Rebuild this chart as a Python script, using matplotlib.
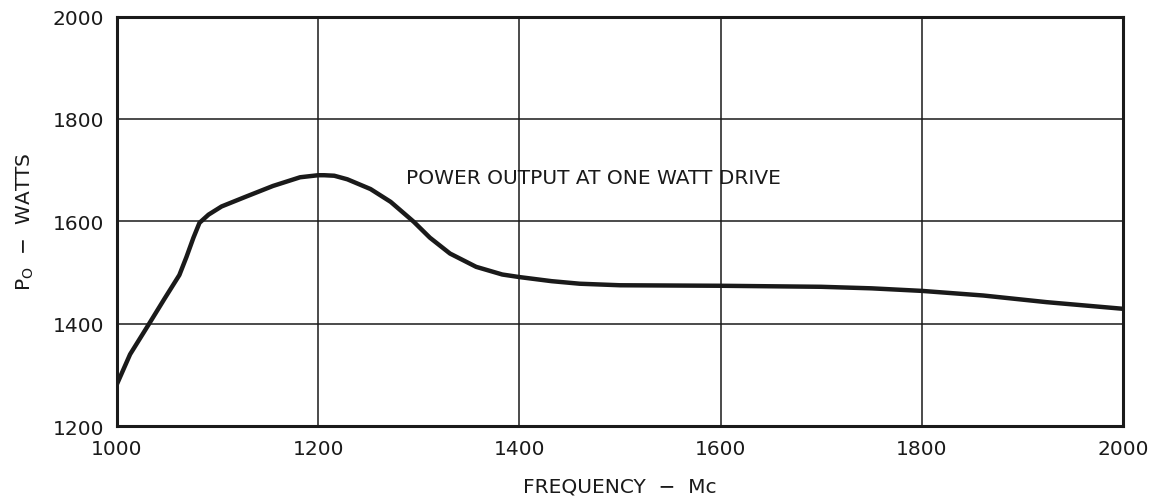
import matplotlib
matplotlib.use("Agg")
import matplotlib.pyplot as plt

# Measured power output versus frequency
freq_mc = [1000, 1013, 1032, 1047, 1062, 1069, 1076, 1082, 1091, 1104, 1128,
           1155, 1182, 1200, 1206, 1216, 1229, 1252, 1272, 1285, 1295, 1311,
           1331, 1357, 1383, 1400, 1432, 1460, 1500, 1600, 1700, 1750, 1800,
           1861, 1924, 2000]
power_w = [1282, 1340, 1400, 1448, 1495, 1530, 1568, 1597, 1613, 1629, 1648,
           1669, 1686, 1690, 1690, 1689, 1682, 1663, 1638, 1616, 1599, 1568,
           1537, 1511, 1496, 1491, 1483, 1478, 1475, 1474, 1472, 1469, 1464,
           1455, 1442, 1429]

x_ticks = [1000, 1200, 1400, 1600, 1800, 2000]
y_ticks = [1200, 1400, 1600, 1800, 2000]

plt.rcParams["font.family"] = ["DejaVu Sans"]
ink = "#1a1a1a"

fig = plt.figure(figsize=(11.63, 5.02), dpi=100)
ax = fig.add_axes([0.1006, 0.1494, 0.8650, 0.8156])

ax.plot(freq_mc, power_w, color=ink, lw=3.2, solid_capstyle="round",
        solid_joinstyle="round", zorder=3)

ax.set_xlim(1000, 2000)
ax.set_ylim(1200, 2000)
ax.set_xticks(x_ticks)
ax.set_yticks(y_ticks)
ax.set_xticklabels([str(v) for v in x_ticks], fontsize=14.5, color=ink)
ax.set_yticklabels([str(v) for v in y_ticks], fontsize=14.5, color=ink)
ax.tick_params(length=0, pad=9)

ax.grid(True, color=ink, lw=1.1)
for s in ax.spines.values():
    s.set_linewidth(2.2)
    s.set_color(ink)

ax.text(1287, 1686, "POWER OUTPUT AT ONE WATT DRIVE", fontsize=14.5,
        color=ink, va="center", ha="left")

ax.set_xlabel("FREQUENCY  \u2212  Mc", fontsize=14.5, color=ink, labelpad=14)
ax.set_ylabel("P$_\\mathregular{O}$  \u2212  WATTS", fontsize=14.5, color=ink,
              labelpad=12)

fig.savefig("out.png", dpi=100)
